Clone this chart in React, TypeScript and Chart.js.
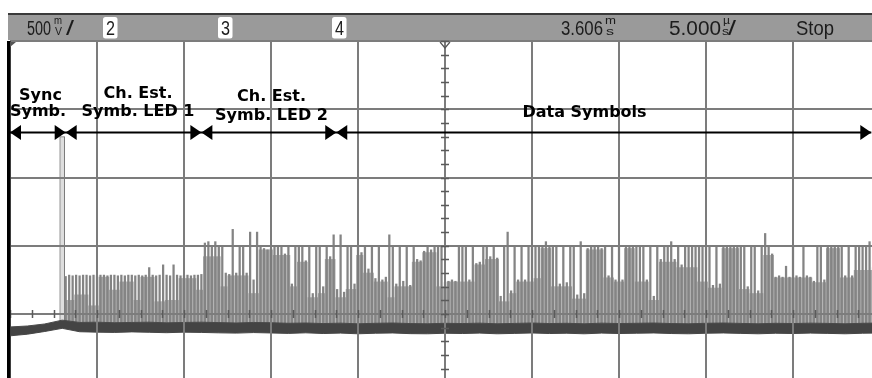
import React, { useEffect, useRef } from "react";
import { Chart, registerables } from "chart.js";

Chart.register(...registerables);

// Screen geometry in data units: 5 µs/div horizontally, 500 mV/div vertically
const TIME_MIN = -25;
const TIME_MAX = 25;
const TIME_PER_DIV = 5;
const MV_MIN = -2000;
const MV_MAX = 2000;
const MV_PER_DIV = 500;

// Acquisition samples start right after the sync pulse, every 0.2 µs
const SAMPLE_START = -21.8;
const SAMPLE_STEP = 0.2;
const TRACE_BASE = -100; // mV, bottom of every envelope bar

// Sync symbol pulse
const syncTime = -22.0;
const syncPeak = 1300;

// Channel-estimation symbols, LED 1 (peak / dense-envelope level, mV)
const led1Peaks = [
  275, 285, 280, 285, 280, 285, 285, 280, 285, 280,
  285, 285, 280, 285, 285, 280, 285, 280, 285, 285,
  280, 285, 280, 285, 340, 285, 280, 285, 360, 285,
  280, 360, 285, 280, 285, 285, 280, 285, 285, 290,
];
const led1Fill = [
  100, 100, 100, 140, 140, 140, 140, 60, 60, 60,
  270, 270, 270, 175, 175, 175, 235, 235, 235, 235,
  100, 100, 270, 270, 270, 270, 90, 90, 90, 100,
  100, 100, 100, 260, 260, 260, 260, 260, 175, 175,
];

// Channel-estimation symbols, LED 2
const led2Peaks = [
  520, 530, 500, 530, 490, 490, 300, 290, 620, 300,
  490, 490, 300, 600, 250, 600, 490, 480, 470, 480,
  490, 490, 490, 440, 490, 220, 490, 490, 490, 390,
  490, 150, 490, 490, 200, 490, 420, 580, 180,
];
const led2Fill = [
  420, 420, 420, 420, 420, 200, 200, 280, 280, 280,
  280, 280, 280, 150, 150, 150, 470, 470, 470, 470,
  430, 430, 430, 430, 430, 200, 200, 380, 380, 380,
  120, 120, 120, 150, 150, 400, 400, 400, 120,
];

// Data symbols
const dataPeaks = [
  580, 160, 490, 490, 220, 490, 450, 490, 330, 490,
  260, 490, 250, 270, 580, 490, 220, 490, 240, 490,
  210, 490, 400, 390, 460, 490, 470, 490, 490, 490,
  230, 240, 250, 240, 490, 490, 490, 250, 490, 370,
  380, 490, 490, 420, 490, 410, 130, 490, 600, 170,
  490, 250, 490, 250, 490, 490, 490, 490, 490, 530,
  490, 490, 490, 220, 490, 230, 490, 490, 140, 530,
  150, 480, 490, 490, 490, 480, 490, 280, 490, 250,
  490, 250, 490, 490, 490, 490, 490, 490, 250, 490,
  130, 490, 400, 490, 490, 530, 400, 490, 360, 490,
  490, 490, 490, 490, 490, 490, 490, 210, 490, 220,
  490, 490, 490, 490, 490, 490, 490, 200, 490, 490,
  170, 490, 590, 490, 440, 270, 280, 270, 350, 270,
  490, 280, 270, 490, 280, 270, 240, 490, 490, 250,
  490, 490, 490, 490, 490, 280, 490, 280, 490, 490,
  490, 490, 530, 340, 330, 340,
];
const dataFill = [
  120, 120, 180, 180, 180, 430, 430, 300, 300, 300,
  235, 235, 235, 235, 120, 120, 200, 200, 200, 200,
  200, 380, 380, 380, 450, 450, 450, 450, 200, 200,
  200, 235, 235, 235, 235, 235, 235, 235, 235, 360,
  360, 360, 400, 400, 400, 400, 90, 90, 90, 150,
  150, 235, 235, 235, 235, 235, 260, 260, 480, 480,
  480, 200, 200, 200, 200, 200, 200, 110, 110, 110,
  110, 470, 470, 470, 470, 470, 265, 265, 265, 235,
  235, 235, 480, 480, 480, 235, 235, 235, 235, 100,
  100, 100, 380, 380, 380, 380, 380, 340, 340, 340,
  340, 340, 340, 235, 235, 235, 190, 190, 190, 190,
  480, 480, 480, 480, 480, 180, 180, 180, 150, 150,
  150, 150, 430, 430, 430, 265, 265, 265, 265, 265,
  265, 265, 265, 265, 265, 265, 230, 230, 230, 230,
  480, 480, 480, 480, 265, 265, 265, 265, 320, 320,
  320, 320, 320, 320, 320, 320,
];

// Noise floor band, one value per µs from -25 µs to +25 µs
const FLOOR_START = -25;
const FLOOR_STEP = 1;
const floorTop = [
  -95, -88, -73, -45,
  -62, -60, -64, -62, -60, -65, -62, -60, -63, -66,
  -62, -64, -68, -66, -70, -67, -72, -68, -66, -70,
  -72, -68, -70, -67, -72, -69, -66, -70, -68, -72,
  -67, -70, -68, -66, -70, -72, -68, -66, -69, -72,
  -68, -70, -67, -69, -72, -68, -66,
];
const floorBottom = [
  -160, -148, -128, -105,
  -130, -133, -135, -131, -134, -137, -133, -135, -138, -140,
  -136, -139, -142, -138, -143, -140, -145, -141, -139, -144,
  -145, -141, -143, -140, -145, -142, -139, -143, -141, -145,
  -140, -143, -141, -139, -143, -145, -141, -139, -142, -145,
  -141, -143, -140, -142, -145, -141, -139,
];

// Frame boundaries marked by the arrows (µs)
const segmentBounds = [-25, -21.8, -14.0, -6.25, 24.5];

const tracePeaks = [...led1Peaks, ...led2Peaks, ...dataPeaks];
const traceFill = [...led1Fill, ...led2Fill, ...dataFill];
const sampleTime = (i: number) => SAMPLE_START + i * SAMPLE_STEP;

const CANVAS_W = 900;
const CANVAS_H = 600;

function fitText(
  ctx: CanvasRenderingContext2D,
  text: string,
  left: number,
  right: number,
  baseline: number,
  font: string
) {
  ctx.font = font;
  const w = ctx.measureText(text).width || 1;
  ctx.save();
  ctx.translate(left, baseline);
  ctx.scale((right - left) / w, 1);
  ctx.textAlign = "left";
  ctx.textBaseline = "alphabetic";
  ctx.fillText(text, 0, 0);
  ctx.restore();
}

function roundRect(ctx: CanvasRenderingContext2D, x: number, y: number, w: number, h: number, r: number) {
  ctx.beginPath();
  ctx.moveTo(x + r, y);
  ctx.lineTo(x + w - r, y);
  ctx.quadraticCurveTo(x + w, y, x + w, y + r);
  ctx.lineTo(x + w, y + h - r);
  ctx.quadraticCurveTo(x + w, y + h, x + w - r, y + h);
  ctx.lineTo(x + r, y + h);
  ctx.quadraticCurveTo(x, y + h, x, y + h - r);
  ctx.lineTo(x, y + r);
  ctx.quadraticCurveTo(x, y, x + r, y);
  ctx.closePath();
}

const scopeScreen = {
  id: "scopeScreen",
  afterDatasetsDraw(chart: any) {
    const { ctx, chartArea } = chart;
    const xs = chart.scales.x;
    const ys = chart.scales.y;
    ctx.save();

    // graticule
    ctx.strokeStyle = "#7c7c7c";
    ctx.lineWidth = 2;
    ctx.beginPath();
    for (let t = TIME_MIN; t <= TIME_MAX; t += TIME_PER_DIV) {
      const px = Math.round(xs.getPixelForValue(t));
      ctx.moveTo(px, chartArea.top);
      ctx.lineTo(px, chartArea.bottom);
    }
    for (let v = MV_MIN; v <= MV_MAX; v += MV_PER_DIV) {
      const py = Math.round(ys.getPixelForValue(v));
      ctx.moveTo(chartArea.left, py);
      ctx.lineTo(chartArea.right, py);
    }
    ctx.stroke();

    // minor ticks on the centre axes
    const cx = Math.round(xs.getPixelForValue(0));
    const cy = Math.round(ys.getPixelForValue(0));
    ctx.strokeStyle = "#5a5a5a";
    ctx.lineWidth = 1.5;
    ctx.beginPath();
    for (let v = MV_MIN; v <= MV_MAX; v += MV_PER_DIV / 5) {
      const py = Math.round(ys.getPixelForValue(v)) + 0.5;
      ctx.moveTo(cx - 4, py);
      ctx.lineTo(cx + 4, py);
    }
    for (let t = TIME_MIN; t <= TIME_MAX; t += TIME_PER_DIV / 4) {
      const px = Math.round(xs.getPixelForValue(t)) + 0.5;
      ctx.moveTo(px, cy - 4);
      ctx.lineTo(px, cy + 4);
    }
    ctx.stroke();

    // left frame edge
    ctx.fillStyle = "#000";
    ctx.fillRect(7, chartArea.top, 3.5, CANVAS_H);

    // ground reference marker
    ctx.fillStyle = "#555";
    ctx.beginPath();
    ctx.moveTo(10, 42);
    ctx.lineTo(16, 42);
    ctx.lineTo(10, 47);
    ctx.closePath();
    ctx.fill();

    // trigger position marker
    ctx.strokeStyle = "#555";
    ctx.lineWidth = 1.2;
    ctx.beginPath();
    ctx.moveTo(cx - 5, 42);
    ctx.lineTo(cx, 48);
    ctx.lineTo(cx + 5, 42);
    ctx.stroke();
    ctx.restore();
  },
  afterDraw(chart: any) {
    const { ctx } = chart;
    const xs = chart.scales.x;
    ctx.save();

    // status bar
    ctx.fillStyle = "#3a3a3a";
    ctx.fillRect(8, 13, CANVAS_W, 2);
    ctx.fillStyle = "#9a9a9a";
    ctx.fillRect(8, 15, CANVAS_W, 25);

    const barFont = "20px 'Liberation Sans', 'DejaVu Sans', sans-serif";
    const smallFont = "10px 'Liberation Sans', 'DejaVu Sans', sans-serif";
    ctx.fillStyle = "#1c1c1c";
    fitText(ctx, "500", 27, 51, 35, barFont);
    fitText(ctx, "m", 54, 62, 24, smallFont);
    fitText(ctx, "V", 55, 62, 35, smallFont);
    fitText(ctx, "/", 66, 74, 35, barFont);

    const channels = [
      { label: "2", left: 103 },
      { label: "3", left: 218 },
      { label: "4", left: 332 },
    ];
    for (const ch of channels) {
      ctx.fillStyle = "#ffffff";
      roundRect(ctx, ch.left, 17, 14.5, 21.5, 2.5);
      ctx.fill();
      ctx.fillStyle = "#1c1c1c";
      fitText(ctx, ch.label, ch.left + 3, ch.left + 12, 35, barFont);
    }

    fitText(ctx, "3.606", 561, 603, 35, barFont);
    fitText(ctx, "m", 605, 616, 24, smallFont);
    fitText(ctx, "s", 606, 614, 35, smallFont);
    fitText(ctx, "5.000", 669, 721, 35, barFont);
    fitText(ctx, "µ", 723, 730, 24, smallFont);
    fitText(ctx, "s", 722, 729, 35, smallFont);
    fitText(ctx, "/", 728, 736, 35, barFont);
    fitText(ctx, "Stop", 796, 834, 35, barFont);

    // frame annotations
    ctx.fillStyle = "#000";
    ctx.font = "bold 16px 'DejaVu Sans', Verdana, sans-serif";
    ctx.textAlign = "center";
    ctx.textBaseline = "alphabetic";
    ctx.fillText("Sync", 40.5, 99.5);
    ctx.fillText("Symb.", 38, 116);
    ctx.fillText("Ch. Est.", 138, 98);
    ctx.fillText("Symb. LED 1", 138, 116);
    ctx.fillText("Ch. Est.", 271.5, 101);
    ctx.fillText("Symb. LED 2", 271.5, 120);
    ctx.fillText("Data Symbols", 584.5, 117);

    const arrowY = 132.5;
    const first = xs.getPixelForValue(segmentBounds[0]);
    const last = xs.getPixelForValue(segmentBounds[segmentBounds.length - 1]);
    ctx.strokeStyle = "#000";
    ctx.lineWidth = 2;
    ctx.beginPath();
    ctx.moveTo(first, arrowY);
    ctx.lineTo(last, arrowY);
    ctx.stroke();
    const head = (tip: number, dir: number) => {
      ctx.beginPath();
      ctx.moveTo(tip, arrowY);
      ctx.lineTo(tip - dir * 11, arrowY - 7.5);
      ctx.lineTo(tip - dir * 11, arrowY + 7.5);
      ctx.closePath();
      ctx.fill();
    };
    segmentBounds.forEach((b, i) => {
      const px = xs.getPixelForValue(b);
      if (i > 0) head(px, 1);
      if (i < segmentBounds.length - 1) head(px, -1);
    });
    ctx.restore();
  },
};

export default function App() {
  const canvasRef = useRef<HTMLCanvasElement>(null);

  useEffect(() => {
    const canvas = canvasRef.current;
    if (!canvas) return;

    const fillData = traceFill.map((v, i) => ({ x: sampleTime(i), y: [TRACE_BASE, v] }));
    const peakData = tracePeaks.map((v, i) => ({ x: sampleTime(i), y: [TRACE_BASE, v] }));
    const floorTopData = floorTop.map((v, i) => ({ x: FLOOR_START + i * FLOOR_STEP, y: v }));
    const floorBottomData = floorBottom.map((v, i) => ({ x: FLOOR_START + i * FLOOR_STEP, y: v }));

    const chart = new Chart(canvas, {
      type: "bar",
      data: {
        datasets: [
          {
            label: "envelope",
            data: fillData as any,
            backgroundColor: "#a6a6a6",
            barThickness: 3.0,
            grouped: false,
            order: 3,
          },
          {
            label: "symbols",
            data: peakData as any,
            backgroundColor: "#848484",
            barThickness: 1.6,
            grouped: false,
            order: 2,
          },
          {
            label: "sync",
            data: [{ x: syncTime, y: [TRACE_BASE, syncPeak] }] as any,
            backgroundColor: "#dedede",
            borderColor: "#7a7a7a",
            borderWidth: 1,
            borderSkipped: false,
            barThickness: 5,
            grouped: false,
            order: 2,
          },
          {
            type: "line",
            label: "floor",
            data: floorTopData as any,
            borderColor: "#4a4a4a",
            backgroundColor: "#444444",
            borderWidth: 1,
            pointRadius: 0,
            tension: 0,
            fill: "+1",
            order: 1,
          } as any,
          {
            type: "line",
            label: "floor-low",
            data: floorBottomData as any,
            borderColor: "#4a4a4a",
            borderWidth: 1,
            pointRadius: 0,
            tension: 0,
            fill: false,
            order: 1,
          } as any,
        ],
      },
      options: {
        responsive: false,
        animation: false,
        devicePixelRatio: 1,
        layout: { padding: { left: 10, top: 41, right: CANVAS_W - 880, bottom: CANVAS_H - 587 } },
        plugins: { legend: { display: false }, tooltip: { enabled: false } },
        scales: {
          x: { type: "linear", min: TIME_MIN, max: TIME_MAX, offset: false, display: false },
          y: { type: "linear", min: MV_MIN, max: MV_MAX, display: false },
        },
      },
      plugins: [scopeScreen],
    });
    return () => chart.destroy();
  }, []);

  return (
    <div
      style={{
        position: "fixed",
        left: 0,
        top: 0,
        width: 872,
        height: 378,
        overflow: "hidden",
        background: "#ffffff",
      }}
    >
      <canvas
        ref={canvasRef}
        width={CANVAS_W}
        height={CANVAS_H}
        style={{ display: "block", width: CANVAS_W, height: CANVAS_H }}
      />
    </div>
  );
}
